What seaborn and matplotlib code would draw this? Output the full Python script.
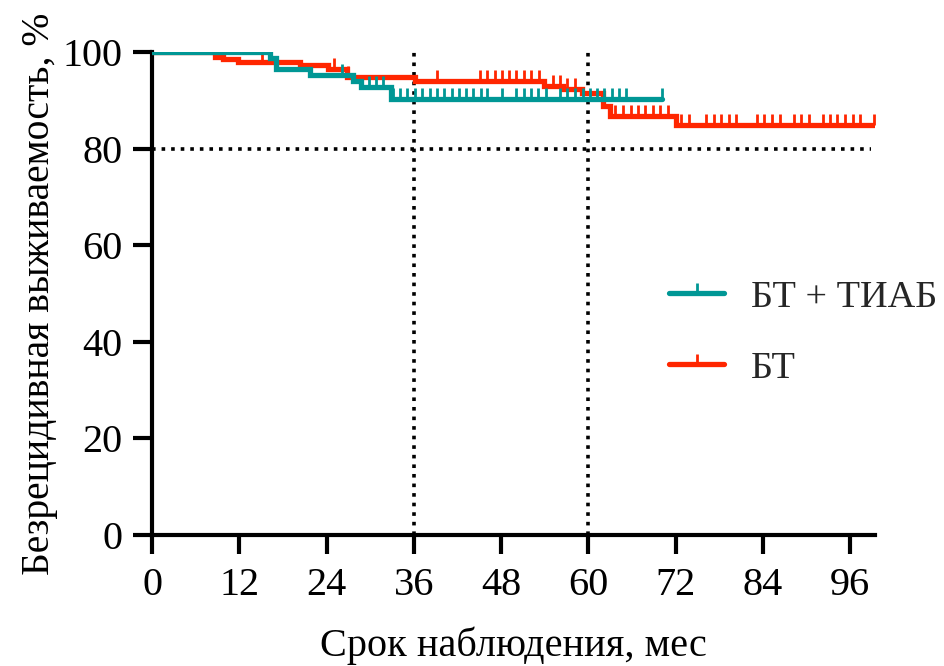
import numpy as np
import pandas as pd
import matplotlib
matplotlib.use("Agg")
import matplotlib.pyplot as plt
from matplotlib.lines import Line2D
from matplotlib.markers import MarkerStyle
import seaborn as sns

# Kaplan-Meier step data (months, survival %)
teal_event_t = [16.2, 17.1, 21.7, 27.6, 28.8, 32.8]
teal_event_s = [98.8, 96.4, 95.2, 94.0, 92.8, 90.3]
teal_censor_t = [26.1, 29.9, 30.8, 31.8, 33.1, 34.1, 35.1, 36.1, 37.1, 38.2,
                 39.2, 40.2, 41.2, 42.2, 43.2, 44.2, 45.2, 46.1, 48.1, 50.1,
                 51.1, 52.1, 53.1, 54.1, 56.1, 57.1, 58.1, 59.2, 60.2, 61.2,
                 62.2, 63.2, 64.2, 65.2, 70.1]

red_event_t = [8.7, 9.7, 11.8, 20.4, 24.2, 26.8, 36.2, 53.9, 56.5, 59.1,
               62.0, 63.0, 72.1]
red_event_s = [98.9, 98.5, 97.9, 97.3, 96.4, 94.9, 93.9, 93.0, 92.4, 91.6,
               88.8, 86.8, 84.9]
red_censor_t = [15.1, 25.0, 27.0, 39.2, 45.1, 46.1, 47.1, 48.1, 49.1, 50.1,
                51.1, 52.1, 53.2, 55.1, 56.1, 57.0, 58.1, 63.7, 64.7, 65.8,
                66.8, 67.8, 68.9, 69.9, 70.9, 72.7, 73.8, 76.2, 77.2, 78.2,
                79.3, 80.3, 83.2, 84.2, 85.2, 86.3, 88.2, 89.2, 90.3, 92.2,
                93.2, 94.2, 95.3, 96.4, 97.4, 99.3]

group_names = ["БТ + ТИАБ", "БТ"]
group_colors = ["#009795", "#FF2600"]

x_ticks = [0, 12, 24, 36, 48, 60, 72, 84, 96]
y_ticks = [0, 20, 40, 60, 80, 100]
ref_months = [36, 60]
ref_level = 80

sns.set_theme(style="ticks")
plt.rcParams["font.family"] = ["Liberation Serif", "DejaVu Serif"]

fig = plt.figure(figsize=(9.44, 6.66), dpi=100)
ax = fig.add_axes([152 / 944, 1 - 535 / 666, (875 - 152) / 944, (535 - 52) / 666])

# upward censor tick
tick_marker = MarkerStyle([(0, 0), (0, 1)])


def km_frame(event_t, event_s, censor_t):
    end_t = max(max(event_t), max(censor_t))
    t = [0.0] + list(event_t) + [end_t]
    s = [100.0] + list(event_s) + [event_s[-1]]
    return pd.DataFrame({"t": t, "s": s})


def survival_at(event_t, event_s, times):
    et = np.asarray(event_t)
    es = np.concatenate([[100.0], np.asarray(event_s)])
    idx = np.searchsorted(et, np.asarray(times), side="right")
    return es[idx]


series = [
    (teal_event_t, teal_event_s, teal_censor_t),
    (red_event_t, red_event_s, red_censor_t),
]

# reference lines
for m in ref_months:
    ax.axvline(m, color="black", lw=2.6, ls=":", zorder=1)
ax.plot([0, 98.8], [ref_level, ref_level], color="black", lw=2.6, ls=":", zorder=1)

# draw red first so teal sits on top where they overlap
for (et, es, ct), color, z in zip(series[::-1], group_colors[::-1], [3, 4]):
    df = km_frame(et, es, ct)
    sns.lineplot(data=df, x="t", y="s", ax=ax, color=color, lw=3.8,
                 drawstyle="steps-post", estimator=None, sort=False,
                 zorder=z, solid_joinstyle="miter")
    cdf = pd.DataFrame({"t": ct, "s": survival_at(et, es, ct)})
    sns.scatterplot(data=cdf, x="t", y="s", ax=ax, marker=tick_marker,
                    s=230, color=color, edgecolor=color, linewidth=2.0,
                    zorder=z, legend=False)

ax.set_xlim(0, 99.4)
ax.set_ylim(0, 100)
ax.set_xticks(x_ticks)
ax.set_yticks(y_ticks)
ax.tick_params(axis="both", labelsize=29, width=3, length=14, color="black",
               labelcolor="black")
ax.tick_params(axis="x", pad=9)
ax.tick_params(axis="y", pad=7)
for side in ["left", "bottom"]:
    ax.spines[side].set_linewidth(3)
    ax.spines[side].set_color("black")
sns.despine(ax=ax)

ax.set_xlabel("Срок наблюдения, мес", fontsize=29, color="black")
ax.set_ylabel("Безрецидивная выживаемость, %", fontsize=28.5, color="black")
ax.xaxis.set_label_coords(0.5, -0.19)
ax.yaxis.set_label_coords(-0.13, 0.5)

handles = [Line2D([], [], color=c, lw=3.8, marker=tick_marker, markersize=15,
                  markeredgewidth=2.0, solid_capstyle="round")
           for c in group_colors]
leg = fig.legend(handles, group_names, loc="upper left",
                 bbox_to_anchor=(669 / 944, 1 - 280 / 666), frameon=False,
                 fontsize=27.5, handlelength=1.45, handletextpad=0.7,
                 labelspacing=0.95, borderaxespad=0, borderpad=0)

fig.savefig("out.png", dpi=100)
